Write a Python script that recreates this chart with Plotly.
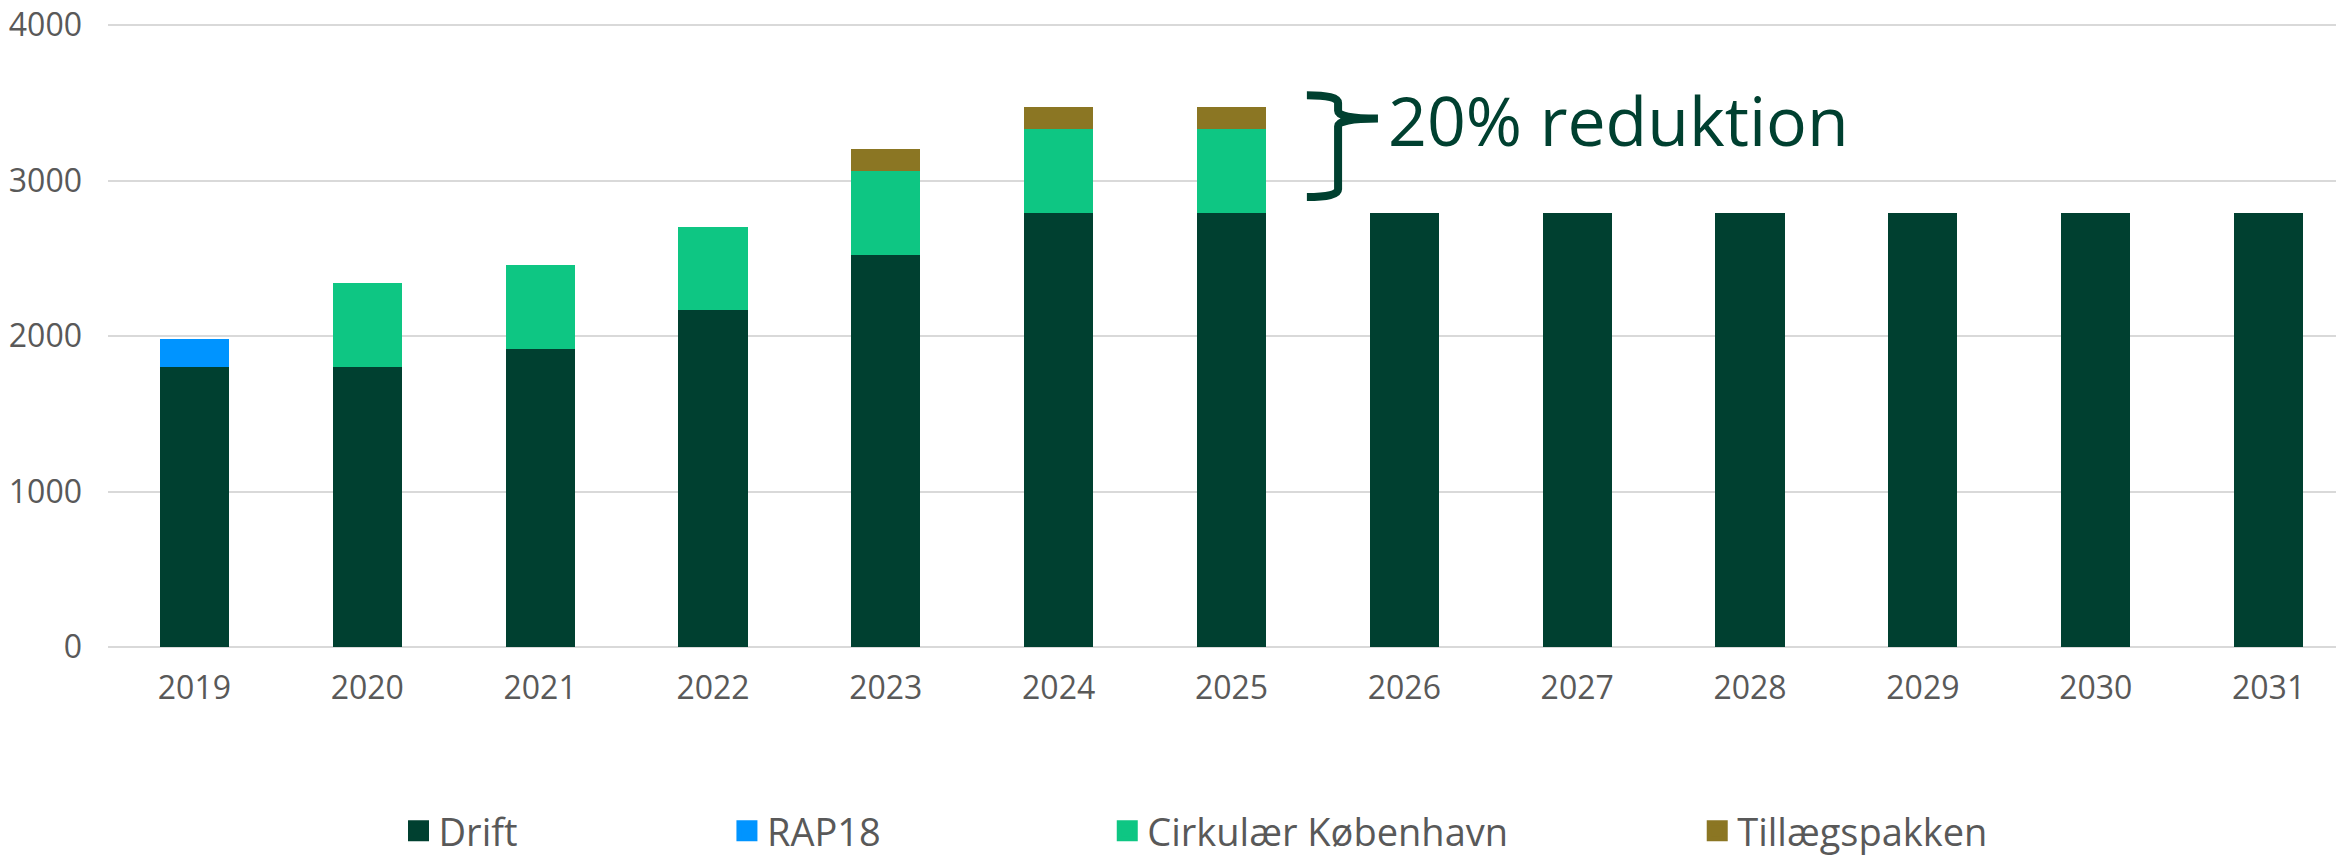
import plotly.graph_objects as go

years = ["2019", "2020", "2021", "2022", "2023", "2024", "2025",
         "2026", "2027", "2028", "2029", "2030", "2031"]
drift = [1800, 1800, 1920, 2165, 2520, 2790, 2790, 2790, 2790, 2790, 2790, 2790, 2790]
rap18 = [180, 0, 0, 0, 0, 0, 0, 0, 0, 0, 0, 0, 0]
cirkulaer = [0, 540, 540, 537, 540, 543, 543, 0, 0, 0, 0, 0, 0]
tillaeg = [0, 0, 0, 0, 145, 143, 143, 0, 0, 0, 0, 0, 0]
y_ticks = [0, 1000, 2000, 3000, 4000]

FONT = "Open Sans"
GREY = "#595959"
DARK = "#004030"

series = [
    ("Drift", drift, "#004030", "legend", 0.1304),
    ("RAP18", rap18, "#0094FF", "legend2", 0.2778),
    ("Cirkulær København", cirkulaer, "#0EC683", "legend3", 0.4485),
    ("Tillægspakken", tillaeg, "#8B7623", "legend4", 0.7133),
]

fig = go.Figure()
legends = {}
for name, vals, col, leg, lx in series:
    fig.add_trace(go.Bar(x=years, y=vals, name=name, marker_color=col,
                         marker_line_width=0, showlegend=False))
    # legend-only entry so the swatch can be bigger than the bar default
    fig.add_trace(go.Scatter(x=[None], y=[None], mode="markers", name=name,
                             marker=dict(symbol="square", size=16, color=col,
                                         line=dict(color=col, width=5)),
                             legend=leg, hoverinfo="skip"))
    legends[leg] = dict(x=lx, y=-0.2953, xanchor="left", yanchor="middle",
                        orientation="h", bgcolor="rgba(0,0,0,0)",
                        font=dict(family=FONT, size=38, color=GREY))

# braket for the reduction
L, V, T = 0.5381, 0.5521, 0.570
brace = (f"M {L},3550 Q {V},3550 {V},3500 L {V},3450 Q {V},3400 {T},3400 "
         f"Q {V},3400 {V},3350 L {V},2945 Q {V},2895 {L},2895")
fig.add_shape(type="path", path=brace, xref="paper", yref="y",
              line=dict(color=DARK, width=8))
fig.add_annotation(x=0.5736, y=3393, xref="paper", yref="y", text="20% reduktion",
                   showarrow=False, xanchor="left", yanchor="middle",
                   font=dict(family=FONT, size=68, color=DARK))

fig.update_layout(
    barmode="stack",
    bargap=0.6,
    width=2336, height=855,
    margin=dict(l=108, r=0, t=24, b=208, autoexpand=False),
    paper_bgcolor="white", plot_bgcolor="white",
    font=dict(family=FONT, color=GREY),
    showlegend=True,
    **legends,
)
fig.update_xaxes(type="category", range=[-0.5, 12.39], showgrid=False,
                 tickfont=dict(size=32, color=GREY), ticklabelstandoff=19,
                 showline=False)
fig.update_yaxes(range=[0, 4008], tickvals=y_ticks, showgrid=True,
                 gridcolor="#D9D9D9", gridwidth=2, zeroline=True,
                 zerolinecolor="#D9D9D9", zerolinewidth=2,
                 tickfont=dict(size=32, color=GREY), ticklabelstandoff=25)

# the page's default body margin would push the figure 8px down/right
fig.write_html("out.html", config={"displayModeBar": False},
               post_script="document.body.style.margin='0';")
